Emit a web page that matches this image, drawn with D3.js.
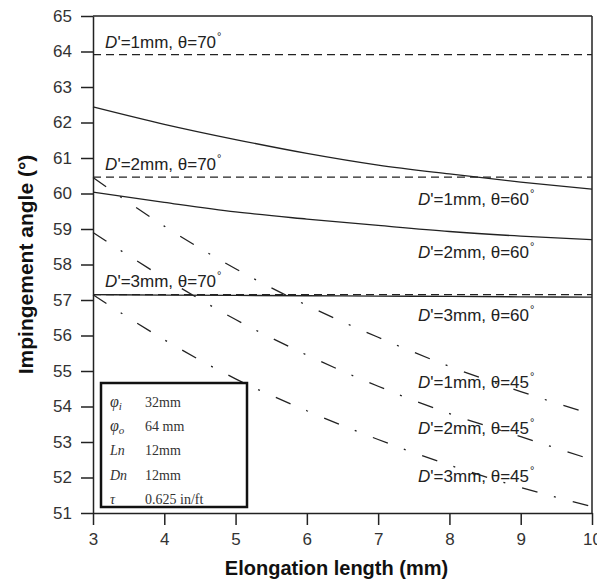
<!DOCTYPE html>
<html lang="en">
    <head>
       <script src="https://d3js.org/d3.v7.min.js"></script>
       <style>
           body { margin: 0; background: #fff; }
       </style>
    </head>
    <body>

        <script>
            var width  = 597;
            var height = 582;

            // elongation length (mm)
            var xs = [3, 4, 5, 6, 7, 8, 9, 10];

            // impingement angle (deg)
            var d1_t70 = [63.91, 63.91, 63.91, 63.91, 63.91, 63.91, 63.91, 63.91];
            var d2_t70 = [60.46, 60.46, 60.46, 60.46, 60.46, 60.46, 60.46, 60.46];
            var d3_t70 = [57.15, 57.15, 57.15, 57.15, 57.15, 57.15, 57.15, 57.15];

            var d1_t60 = [62.44, 61.95, 61.52, 61.13, 60.80, 60.55, 60.32, 60.12];
            var d2_t60 = [60.04, 59.75, 59.48, 59.28, 59.10, 58.93, 58.80, 58.70];
            var d3_t60 = [57.15, 57.14, 57.13, 57.12, 57.11, 57.10, 57.09, 57.08];

            var d1_t45 = [60.45, 59.08, 57.88, 56.85, 55.95, 55.13, 54.42, 53.78];
            var d2_t45 = [58.90, 57.62, 56.45, 55.45, 54.57, 53.80, 53.15, 52.50];
            var d3_t45 = [57.15, 55.88, 54.78, 53.88, 53.07, 52.35, 51.72, 51.18];

            var yTicks = [51, 52, 53, 54, 55, 56, 57, 58, 59, 60, 61, 62, 63, 64, 65];
            var xTicks = [3, 4, 5, 6, 7, 8, 9, 10];

            // series: values, line style, label size (mm) and angle
            var series = [
                { values: d1_t70, style: "dash",    dp: "1", theta: "70" },
                { values: d2_t70, style: "dash",    dp: "2", theta: "70" },
                { values: d3_t70, style: "dash",    dp: "3", theta: "70" },
                { values: d1_t60, style: "solid",   dp: "1", theta: "60" },
                { values: d2_t60, style: "solid",   dp: "2", theta: "60" },
                { values: d3_t60, style: "solid",   dp: "3", theta: "60" },
                { values: d1_t45, style: "dashdot", dp: "1", theta: "45" },
                { values: d2_t45, style: "dashdot", dp: "2", theta: "45" },
                { values: d3_t45, style: "dashdot", dp: "3", theta: "45" }
            ];

            // where each label sits, in data units (x, baseline y)
            var labelPos = [
                [3.17, 64.09], [3.17, 60.65], [3.17, 57.36],
                [7.56, 59.67], [7.56, 58.17], [7.56, 56.41],
                [7.56, 54.51], [7.56, 53.22], [7.56, 51.88]
            ];

            // parameter box
            var paramSym  = ["φ", "φ", "Ln", "Dn", "τ"];
            var paramSub  = ["i", "o", "", "", ""];
            var paramVal  = ["32mm", "64 mm", "12mm", "12mm", "0.625 in/ft"];

            var dashStyles = { dash: "8,5", solid: null, dashdot: "16,17,2,17.5" };

            var margin = { left: 93, right: 5, top: 16, bottom: 69 };

            var svg = d3.select("body")
                        .append("svg")
                        .attr("width", width)
                        .attr("height", height)
                        .style("font-family", "'Liberation Sans', Arial, sans-serif");

            var x = d3.scaleLinear().domain([3, 10]).range([margin.left, width - margin.right]);
            var y = d3.scaleLinear().domain([51, 65]).range([height - margin.bottom, margin.top]);

            var ink = "#222";

            // axes
            var gx = svg.append("g")
                        .attr("transform", "translate(0," + y(51) + ")")
                        .call(d3.axisBottom(x).tickValues(xTicks).tickFormat(d3.format("d"))
                                .tickSize(12).tickSizeOuter(0).tickPadding(8));
            var gy = svg.append("g")
                        .attr("transform", "translate(" + x(3) + ",0)")
                        .call(d3.axisLeft(y).tickValues(yTicks).tickFormat(d3.format("d"))
                                .tickSize(12).tickSizeOuter(0).tickPadding(9));

            [gx, gy].forEach(function (g) {
                g.selectAll("path, line").attr("stroke", ink).attr("stroke-width", 1.5);
                g.selectAll("text").attr("fill", "#333").style("font-size", "17px");
            });

            // top and right frame
            svg.append("line")
               .attr("x1", x(3)).attr("x2", x(10))
               .attr("y1", y(65)).attr("y2", y(65))
               .attr("stroke", ink).attr("stroke-width", 1.5);
            svg.append("line")
               .attr("x1", x(10)).attr("x2", x(10))
               .attr("y1", y(65)).attr("y2", y(51))
               .attr("stroke", ink).attr("stroke-width", 1.5);

            // curves
            var line = d3.line()
                         .x(function (d, i) { return x(xs[i]); })
                         .y(function (d) { return y(d); })
                         .curve(d3.curveMonotoneX);

            svg.append("g")
               .selectAll("path")
               .data(series)
               .enter()
               .append("path")
               .attr("d", function (s) { return line(s.values); })
               .attr("fill", "none")
               .attr("stroke", ink)
               .attr("stroke-width", 1.3)
               .attr("stroke-dasharray", function (s) { return dashStyles[s.style]; });

            // curve labels
            var labels = svg.append("g")
                            .selectAll("text")
                            .data(series)
                            .enter()
                            .append("text")
                            .attr("x", function (s, i) { return x(labelPos[i][0]); })
                            .attr("y", function (s, i) { return y(labelPos[i][1]); })
                            .attr("fill", ink)
                            .style("font-size", "17px");
            labels.append("tspan").style("font-style", "italic").text("D");
            labels.append("tspan").text(function (s) { return "'=" + s.dp + "mm, θ=" + s.theta; });
            labels.append("tspan").attr("dy", -8).attr("dx", 1).style("font-size", "11px").text("°");

            // parameter box
            svg.append("rect")
               .attr("x", 101).attr("y", 383)
               .attr("width", 146).attr("height", 124)
               .attr("fill", "#fff")
               .attr("stroke", "#111")
               .attr("stroke-width", 2.5);

            var rows = svg.append("g")
                          .style("font-family", "'Liberation Serif', 'Times New Roman', serif")
                          .style("font-size", "14px")
                          .attr("fill", "#333")
                          .selectAll("g")
                          .data(paramVal)
                          .enter()
                          .append("g")
                          .attr("transform", function (d, i) { return "translate(0," + (407 + i * 24.2) + ")"; });

            var sym = rows.append("text")
                          .attr("x", 110)
                          .style("font-style", "italic");
            sym.append("tspan").style("font-size", function (d, i) { return i < 2 ? "16px" : "14px"; })
               .text(function (d, i) { return paramSym[i]; });
            sym.append("tspan").attr("dy", 3).style("font-size", "11px")
               .text(function (d, i) { return paramSub[i]; });

            rows.append("text")
                .attr("x", 145)
                .text(function (d) { return d; });

            // axis titles
            svg.append("text")
               .attr("x", (x(3) + x(10)) / 2 - 6)
               .attr("y", 575)
               .attr("text-anchor", "middle")
               .attr("fill", "#111")
               .style("font-weight", "bold")
               .style("font-size", "20px")
               .text("Elongation length (mm)");

            svg.append("text")
               .attr("transform", "translate(33," + ((y(51) + y(65)) / 2) + ") rotate(-90)")
               .attr("text-anchor", "middle")
               .attr("fill", "#111")
               .style("font-weight", "bold")
               .style("font-size", "21px")
               .text("Impingement angle (°)");
        </script>

    </body>
</html>
